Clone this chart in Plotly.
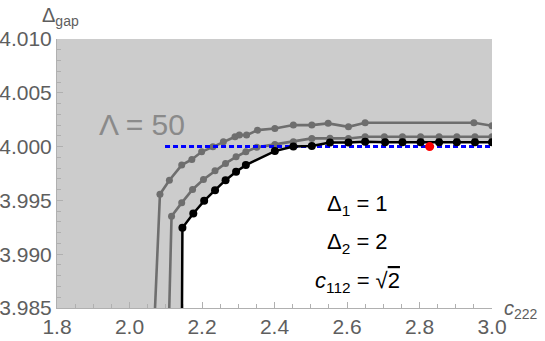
import plotly.graph_objects as go

# ---- data ----
upper_x = [2.064, 2.084, 2.110, 2.144, 2.172, 2.199, 2.230, 2.259, 2.291, 2.303, 2.323, 2.353,
           2.401, 2.452, 2.503, 2.548, 2.604, 2.650, 2.950, 3.000]
upper_y = [3.980, 3.99558, 3.99688, 3.99828, 3.99881, 3.99952, 3.99998, 4.00045, 4.00091, 4.00107,
           4.00107, 4.00153, 4.00169, 4.00200, 4.00200, 4.00216, 4.00184, 4.00221, 4.00221, 4.00193]

mid_x = [2.106, 2.116, 2.144, 2.174, 2.204, 2.236, 2.265, 2.294, 2.321, 2.351, 2.401, 2.452,
         2.503, 2.553, 2.604, 2.650, 2.703, 2.753, 2.803, 2.854, 2.903, 2.953, 3.000]
mid_y = [3.980, 3.99353, 3.99477, 3.99602, 3.99695, 3.99775, 3.99844, 3.99905, 3.99952, 3.99993,
         4.00020, 4.00045, 4.00076, 4.00078, 4.00076, 4.00091, 4.00091, 4.00091, 4.00091, 4.00091,
         4.00091, 4.00091, 4.00091]

black_x = [2.144, 2.146, 2.176, 2.206, 2.236, 2.265, 2.294, 2.321, 2.401, 2.452, 2.503, 2.553,
           2.604, 2.650, 2.705, 2.753, 2.803, 2.854, 2.903, 2.953, 3.000]
black_y = [3.980, 3.99245, 3.99379, 3.99496, 3.99595, 3.99688, 3.99766, 3.99828, 3.99958, 4.00000,
           4.00005, 4.00039, 4.00039, 4.00044, 4.00040, 4.00040, 4.00040, 4.00040, 4.00040, 4.00040,
           4.00040]

blue_x = [2.098, 3.0]
blue_y = [4.000, 4.000]

red_x = [2.828]
red_y = [4.000]

x_range = [1.8, 3.0]
y_range = [3.985, 4.010]
x_ticks = [1.8, 2.0, 2.2, 2.4, 2.6, 2.8, 3.0]
x_ticklabels = ["1.8", "2.0", "2.2", "2.4", "2.6", "2.8", "3.0"]
y_ticks = [3.985, 3.990, 3.995, 4.000, 4.005, 4.010]
y_ticklabels = ["3.985", "3.990", "3.995", "4.000", "4.005", "4.010"]

FONT = "Liberation Sans, Arial, sans-serif"
GRAY = "#6e6e6e"

# gray excluded region: everything above/left of the black curve
fill_x = [x_range[0], x_range[0], x_range[1]] + black_x[::-1] + [black_x[0]]
fill_y = [y_range[0] - 0.01, y_range[1] + 0.01, y_range[1] + 0.01] + black_y[::-1] + [y_range[0] - 0.01]

fig = go.Figure()
fig.add_trace(go.Scatter(x=fill_x, y=fill_y, mode="lines", fill="toself",
                         fillcolor="#cccccc", line=dict(width=0), hoverinfo="skip"))
fig.add_trace(go.Scatter(x=upper_x, y=upper_y, mode="lines+markers",
                         line=dict(color=GRAY, width=2.6), marker=dict(color=GRAY, size=7)))
fig.add_trace(go.Scatter(x=mid_x, y=mid_y, mode="lines+markers",
                         line=dict(color=GRAY, width=2.6), marker=dict(color=GRAY, size=7)))
fig.add_trace(go.Scatter(x=blue_x, y=blue_y, mode="lines",
                         line=dict(color="#0000ff", width=3, dash="5px,3px")))
fig.add_trace(go.Scatter(x=black_x, y=black_y, mode="lines+markers",
                         line=dict(color="#000000", width=2.5), marker=dict(color="#000000", size=8)))
fig.add_trace(go.Scatter(x=red_x, y=red_y, mode="markers",
                         marker=dict(color="#ff0000", size=9)))

axis_common = dict(showgrid=False, zeroline=False, showline=True, linecolor="#b0b0b0", linewidth=1,
                   ticks="inside", tickcolor="#b0b0b0", ticklen=6, tickwidth=1, automargin=False,
                   tickfont=dict(family=FONT, size=21, color="#5e5e5e"), mirror=False)

fig.update_layout(
    width=545, height=341,
    margin=dict(l=57, r=53, t=39, b=33),
    paper_bgcolor="white", plot_bgcolor="white",
    showlegend=False,
    font=dict(family=FONT),
    xaxis=dict(range=x_range, tickvals=x_ticks, ticktext=x_ticklabels,
               minor=dict(dtick=0.05, tick0=1.8, ticks="inside", ticklen=4, tickcolor="#b0b0b0"),
               **axis_common),
    yaxis=dict(range=y_range, tickvals=y_ticks, ticktext=y_ticklabels,
               minor=dict(dtick=0.001, tick0=3.985, ticks="inside", ticklen=4, tickcolor="#b0b0b0"),
               **axis_common),
    annotations=[
        dict(text="Λ = 50", x=2.0345, y=4.0021, xref="x", yref="y", showarrow=False,
             font=dict(family=FONT, size=30, color="#8a8a8a")),
        dict(text="Δ<sub>1</sub> = 1", x=2.628, y=3.9946, xref="x", yref="y", showarrow=False,
             font=dict(family=FONT, size=22, color="black")),
        dict(text="Δ<sub>2</sub> = 2", x=2.628, y=3.9910, xref="x", yref="y", showarrow=False,
             font=dict(family=FONT, size=22, color="black")),
        dict(text="<i>c</i><sub>112</sub> = √<span style='text-decoration:overline'>2</span>",
             x=2.628, y=3.9874, xref="x", yref="y", showarrow=False,
             font=dict(family=FONT, size=22, color="black")),
        dict(text="Δ<sub>gap</sub>", x=0, y=1, xref="paper", yref="paper", xanchor="center",
             yanchor="bottom", xshift=3, yshift=8, showarrow=False,
             font=dict(family=FONT, size=20, color="#5e5e5e")),
        dict(text="<i>c</i><sub>222</sub>", x=1, y=0, xref="paper", yref="paper", xanchor="left",
             yanchor="middle", xshift=10, yshift=-1, showarrow=False,
             font=dict(family=FONT, size=20, color="#5e5e5e")),
    ],
)

fig.write_html("out.html", config={"displayModeBar": False},
               post_script="document.body.style.margin='0';document.body.style.overflow='hidden';")
